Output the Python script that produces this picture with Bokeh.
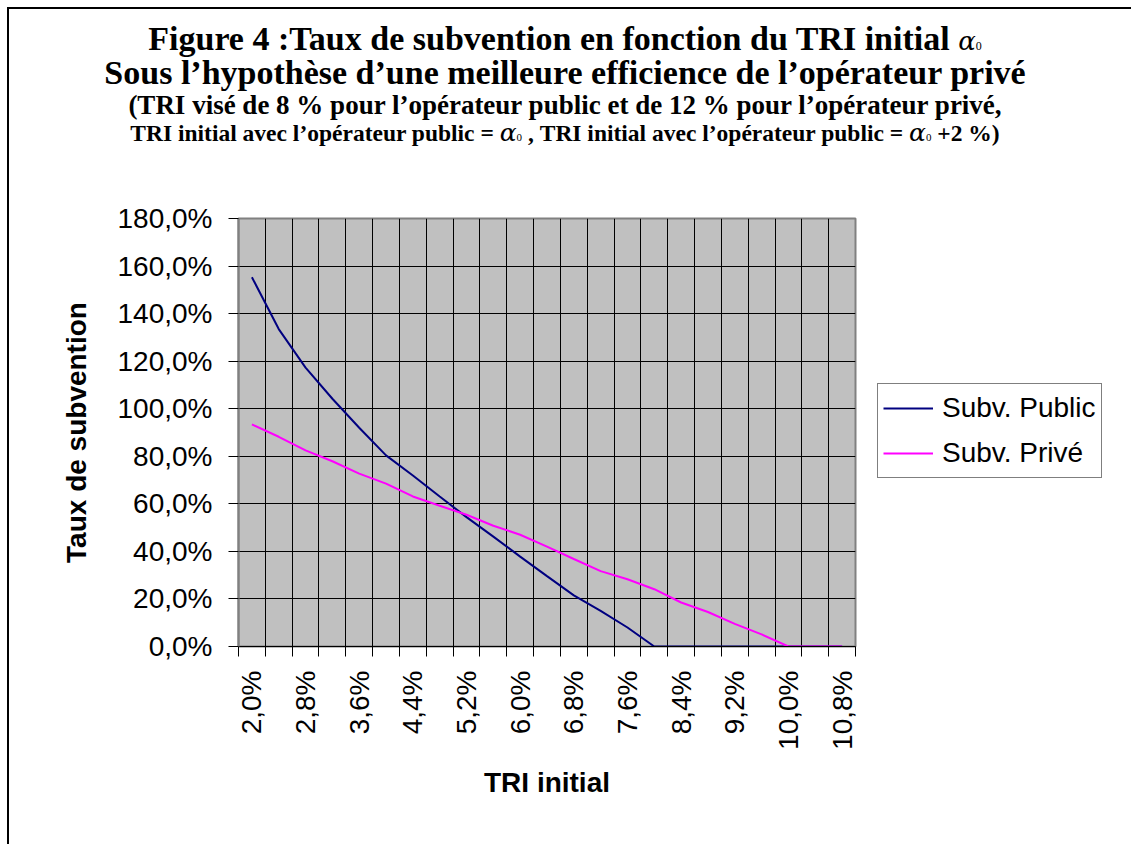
import math
from bokeh.plotting import figure
from bokeh.layouts import column, row
from bokeh.models import (Range1d, FixedTicker, CustomJSTickFormatter, Legend,
                          LegendItem, Div)
from bokeh.embed import file_html
from bokeh.resources import INLINE

# ---- data ----
tri_initial = [2.0, 2.4, 2.8, 3.2, 3.6, 4.0, 4.4, 4.8, 5.2, 5.6, 6.0, 6.4,
               6.8, 7.2, 7.6, 8.0, 8.4, 8.8, 9.2, 9.6, 10.0, 10.4, 10.8]
subv_public = [155.3, 133.5, 117.3, 104.2, 92.0, 80.4, 71.9, 63.1, 54.4,
               46.2, 37.8, 29.6, 21.5, 15.0, 8.0, 0.0, 0.0, 0.0, 0.0, 0.0,
               0.0, 0.0, 0.0]
subv_prive = [93.4, 88.2, 82.5, 77.9, 72.7, 68.5, 63.1, 59.2, 55.4, 50.8,
              47.0, 42.0, 36.8, 31.7, 28.3, 24.1, 18.5, 14.5, 9.5, 5.1,
              0.0, 0.0, 0.0]
y_ticks = [0, 20, 40, 60, 80, 100, 120, 140, 160, 180]
series_names = ["Subv. Public", "Subv. Privé"]
series_colors = ["#000080", "#FF00FF"]
series_values = [subv_public, subv_prive]

ALPHA0 = ('<span style="font-family:\'DejaVu Serif\';font-style:italic;font-weight:normal;font-size:{s}px">\u03b1</span>'
          '<span style="font-family:\'Liberation Serif\';font-weight:normal;font-size:{z}px">0</span>')
title_line1 = "Figure 4 :Taux de subvention en fonction du TRI initial "
title_line2 = "Sous l\u2019hypoth\u00e8se d\u2019une meilleure efficience de l\u2019op\u00e9rateur priv\u00e9"
title_line3 = "(TRI vis\u00e9 de 8 % pour l\u2019op\u00e9rateur public et de 12 % pour l\u2019op\u00e9rateur priv\u00e9,"
title_line4a = "TRI initial avec l\u2019op\u00e9rateur public = "
title_line4b = " , TRI initial avec l\u2019op\u00e9rateur public = "
title_line4c = " +2 %)"

step = tri_initial[1] - tri_initial[0]
half = step / 2.0
boundaries = [round(t - half, 4) for t in tri_initial] + [round(tri_initial[-1] + half, 4)]
label_ticks = tri_initial[::2]

OFF = 9                      # outer frame offset (margin + border)
W = 1122
DIV_H = 150
FIG_H = 685
FRAME_TOP, FRAME_BOTTOM, FRAME_LEFT, FRAME_RIGHT = 218, 646, 238, 855
FL = FRAME_LEFT - OFF
FT = FRAME_TOP - OFF - DIV_H
FB = FIG_H - (FRAME_BOTTOM - OFF - DIV_H)
P_W = (FRAME_RIGHT - OFF) + 2   # main figure width (frame right edge + 2px)
L_W = W - P_W                   # legend strip width

a1 = ALPHA0.format(s=26, z=12)
a4 = ALPHA0.format(s=25, z=11)
html = (
    '<div style="width:%dpx;text-align:center;font-family:\'Liberation Serif\';'
    'font-weight:bold;color:black;padding-right:10px;box-sizing:border-box;">'
    '<div style="height:13px"></div>'
    '<div style="height:34px;line-height:34px;font-size:34px;white-space:nowrap">%s%s</div>'
    '<div style="height:34px;line-height:34px;font-size:34px;white-space:nowrap">%s</div>'
    '<div style="height:31px;line-height:31px;font-size:27px;white-space:nowrap">%s</div>'
    '<div style="height:24px;line-height:24px;font-size:23.5px;white-space:nowrap">%s%s%s%s%s</div>'
    '</div>'
) % (W, title_line1, a1, title_line2, title_line3,
     title_line4a, a4, title_line4b, a4, title_line4c)

title_div = Div(text=html, width=W, height=DIV_H, styles={"margin": "0", "padding": "0"})

p = figure(width=P_W, height=FIG_H, output_backend="svg", toolbar_location=None,
           x_range=Range1d(boundaries[0], boundaries[-1]),
           y_range=Range1d(y_ticks[0], y_ticks[-1]),
           min_border_left=FL, min_border_right=2,
           min_border_top=FT, min_border_bottom=FB)

p.background_fill_color = "#C0C0C0"
p.border_fill_color = "white"
p.outline_line_color = "#808080"
p.outline_line_width = 2

fmt = CustomJSTickFormatter(code="return tick.toFixed(1).replace('.', ',') + '%';")

# grid
p.xgrid.ticker = FixedTicker(ticks=boundaries)
p.ygrid.ticker = FixedTicker(ticks=y_ticks)
for g in (p.xgrid, p.ygrid):
    g.grid_line_color = "black"
    g.grid_line_width = 1

# y axis
ya = p.yaxis[0]
ya.ticker = FixedTicker(ticks=y_ticks)
ya.formatter = fmt
ya.axis_line_color = "#808080"
ya.axis_line_width = 2
ya.major_tick_out = 10
ya.major_tick_in = 0
ya.major_tick_line_color = "black"
ya.minor_tick_line_color = None
ya.major_label_text_font = "Liberation Sans"
ya.major_label_text_font_size = "28px"
ya.major_label_text_color = "black"
ya.major_label_standoff = 16
ya.axis_label = "Taux de subvention"
ya.axis_label_text_font = "Liberation Sans"
ya.axis_label_text_font_style = "bold"
ya.axis_label_text_font_size = "28px"
ya.axis_label_text_color = "black"
ya.axis_label_standoff = 23

# x axis
xa = p.xaxis[0]
xa.ticker = FixedTicker(ticks=label_ticks, minor_ticks=boundaries)
xa.formatter = fmt
xa.axis_line_color = "black"
xa.axis_line_width = 1
xa.major_tick_line_color = None
xa.minor_tick_line_color = "black"
xa.minor_tick_out = 10
xa.minor_tick_in = 0
xa.major_label_orientation = math.pi / 2
xa.major_label_text_font = "Liberation Sans"
xa.major_label_text_font_size = "28px"
xa.major_label_text_color = "black"
xa.major_label_standoff = 14
xa.axis_label = "TRI initial"
xa.axis_label_text_font = "Liberation Sans"
xa.axis_label_text_font_style = "bold"
xa.axis_label_text_font_size = "28px"
xa.axis_label_text_color = "black"
xa.axis_label_standoff = 14

# lines
for vals, c in zip(series_values, series_colors):
    p.line(tri_initial, vals, line_color=c, line_width=2)

# legend strip to the right of the plot (its frame is aligned with the main frame).
# The proxy lines use the same data but lie outside this strip's range, so only
# their legend glyphs are visible.
lf = figure(width=L_W, height=FIG_H, output_backend="svg", toolbar_location=None,
            x_range=Range1d(0, 1), y_range=Range1d(0, 1),
            min_border=0, x_axis_location=None, y_axis_location=None)
lf.grid.visible = False
lf.outline_line_color = None
lf.background_fill_color = "white"
lf.border_fill_color = "white"
leg_rs = [lf.line(tri_initial, vals, line_color=c, line_width=2)
          for vals, c in zip(series_values, series_colors)]

LEG_BOTTOM, LEG_LEFT = 478, 877
legend = Legend(items=[LegendItem(label=n, renderers=[r]) for n, r in zip(series_names, leg_rs)],
                location=(LEG_LEFT - OFF - P_W, FRAME_BOTTOM - LEG_BOTTOM))
legend.border_line_color = "black"
legend.border_line_width = 1
legend.background_fill_color = "white"
legend.background_fill_alpha = 1
legend.label_text_font = "Liberation Sans"
legend.label_text_font_size = "28px"
legend.label_text_color = "black"
legend.glyph_width = 50
legend.glyph_height = 38
legend.label_height = 38
legend.label_standoff = 9
legend.spacing = 7
legend.padding = 5
legend.margin = 0
lf.add_layout(legend)

layout = column(title_div, row(p, lf, spacing=0), spacing=0,
                styles={"margin-left": "7px", "margin-top": "7px",
                        "border-left": "2px solid black",
                        "border-top": "2px solid black"})

open("out.html", "w").write(file_html(layout, INLINE))
